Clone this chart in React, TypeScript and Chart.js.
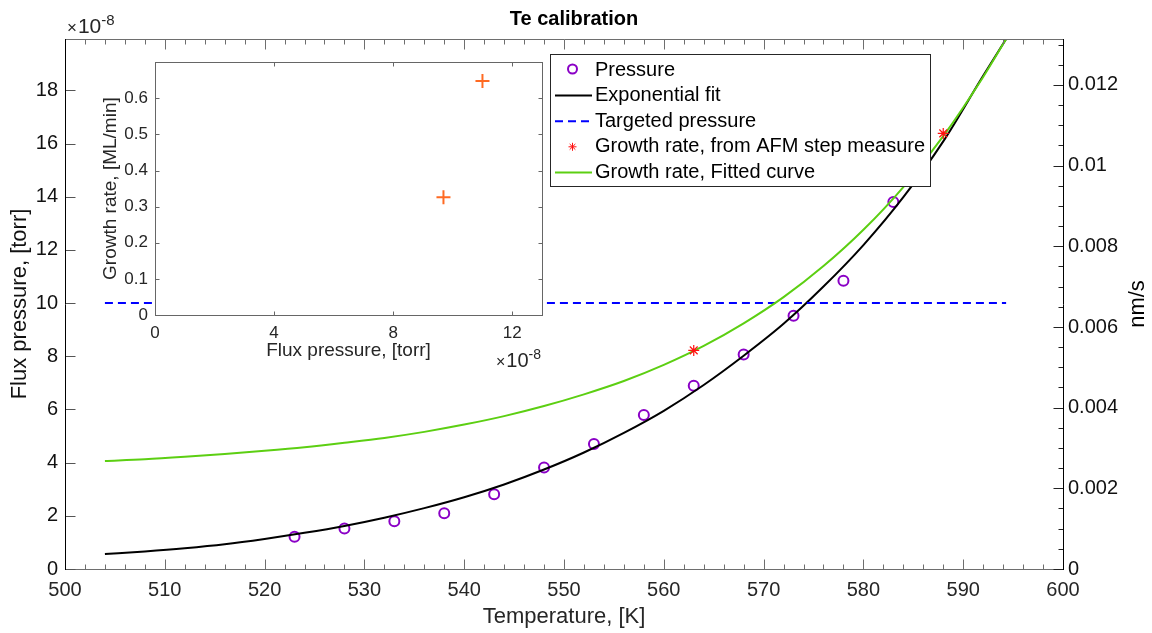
import React, { useEffect, useRef } from "react";
import { Chart, registerables } from "chart.js";

Chart.register(...registerables);

const FONT = '"Liberation Sans", Arial, Helvetica, sans-serif';

// Temperature axis (K)
const temperatureTicks = [500, 510, 520, 530, 540, 550, 560, 570, 580, 590, 600];
// Left axis: flux pressure, in units of 1e-8 torr
const pressureTicks = [0, 2, 4, 6, 8, 10, 12, 14, 16, 18];
// Right axis: growth rate, nm/s
const rateTicks = [0, 0.002, 0.004, 0.006, 0.008, 0.01, 0.012];
const rateTickLabels = ["0", "0.002", "0.004", "0.006", "0.008", "0.01", "0.012"];

// Measured Te flux pressure (x1e-8 torr)
const measuredT = [523, 528, 533, 538, 543, 548, 553, 558, 563, 568, 573, 578, 583];
const measuredP = [1.21, 1.52, 1.8, 2.1, 2.81, 3.82, 4.7, 5.79, 6.89, 8.07, 9.52, 10.84, 13.8];

// Exponential fit through the measured pressure (x1e-8 torr)
const fitT = [504, 508, 512, 516, 520, 524, 528, 532, 536, 540, 544, 548, 552, 556, 560, 564, 568, 572, 576, 580, 584, 588, 592, 594.3];
const fitP = [0.56, 0.66, 0.78, 0.93, 1.13, 1.36, 1.62, 1.93, 2.29, 2.7, 3.18, 3.74, 4.38, 5.12, 5.95, 6.92, 8.02, 9.22, 10.62, 12.18, 13.98, 16.08, 18.55, 19.93];

// Targeted flux pressure (x1e-8 torr)
const targetT = [504, 594.3];
const targetP = [10, 10];

// Growth rate from AFM step height (nm/s)
const afmT = [563, 588];
const afmRate = [0.00542, 0.0108];

// Fitted growth-rate curve (nm/s)
const rateFitT = [504, 508, 512, 516, 520, 524, 528, 532, 536, 540, 544, 548, 552, 556, 560, 564, 568, 572, 576, 580, 584, 588, 592, 594.3];
const rateFitV = [0.00268, 0.00272, 0.00278, 0.00285, 0.00293, 0.00302, 0.00313, 0.00325, 0.0034, 0.00358, 0.00379, 0.00404, 0.00433, 0.00466, 0.00506, 0.00553, 0.00609, 0.00674, 0.00751, 0.00841, 0.00947, 0.01073, 0.0122, 0.01314];

// Inset: growth rate against flux pressure
const insetFlux = [9.69, 11.0]; // x1e-8 torr
const insetRate = [0.326, 0.648]; // ML/min
const insetFluxTicks = [0, 4, 8, 12];
const insetRateTicks = [0, 0.1, 0.2, 0.3, 0.4, 0.5, 0.6];

const PURPLE = "#8A00C6";
const GREEN = "#5CCF12";
const BLUE = "#0000FF";
const RED = "#FF1010";
const ORANGE = "#FF6A22";
const AXIS_GRAY = "#6e6e6e";
const TEXT = "#262626";

const pts = (xs: number[], ys: number[]) => xs.map((x, i) => ({ x, y: ys[i] }));

function line(ctx: CanvasRenderingContext2D, x1: number, y1: number, x2: number, y2: number) {
  ctx.beginPath();
  ctx.moveTo(x1, y1);
  ctx.lineTo(x2, y2);
  ctx.stroke();
}

// "x10^-8" multiplier label
function drawPower(ctx: CanvasRenderingContext2D, x: number, baseline: number, size: number, color: string) {
  ctx.save();
  ctx.fillStyle = color;
  ctx.textBaseline = "alphabetic";
  ctx.textAlign = "left";
  ctx.font = `${Math.round(size * 0.8)}px ${FONT}`;
  ctx.fillText("\u00d7", x, baseline);
  const w1 = ctx.measureText("\u00d7").width;
  ctx.font = `${size}px ${FONT}`;
  ctx.fillText("10", x + w1 + 1, baseline);
  const w2 = ctx.measureText("10").width;
  ctx.font = `${Math.round(size * 0.72)}px ${FONT}`;
  ctx.fillText("-8", x + w1 + 1 + w2, baseline - size * 0.4);
  ctx.restore();
}

const legendItems = [
  { label: "Pressure", kind: "circle" },
  { label: "Exponential fit", kind: "black" },
  { label: "Targeted pressure", kind: "dash" },
  { label: "Growth rate, from AFM step measure", kind: "star" },
  { label: "Growth rate, Fitted curve", kind: "green" },
];

const mainDecor = {
  id: "mainDecor",
  afterDraw(chart: any) {
    const { ctx, chartArea: ca, scales } = chart;
    const xs = scales.x;
    const yl = scales.y;
    const yr = scales.y1;
    const L = Math.round(ca.left) + 0.5;
    const R = Math.round(ca.right) + 0.5;
    const T = Math.round(ca.top) + 0.5;
    const B = Math.round(ca.bottom) + 0.5;
    ctx.save();
    ctx.lineWidth = 1;

    // top and bottom axis lines with inward ticks
    ctx.strokeStyle = AXIS_GRAY;
    line(ctx, L, B, R, B);
    line(ctx, L, T, R, T);
    for (let v = xs.min; v <= xs.max + 1e-9; v += 2) {
      const px = Math.round(xs.getPixelForValue(v)) + 0.5;
      const len = Math.abs(v % 10) < 1e-6 ? 10 : 5;
      line(ctx, px, B, px, B - len);
      line(ctx, px, T, px, T + len);
    }

    // left axis
    ctx.strokeStyle = "#555";
    for (const v of pressureTicks) {
      const py = Math.round(yl.getPixelForValue(v)) + 0.5;
      line(ctx, L, py, L + 10, py);
    }
    ctx.strokeStyle = "#000";
    line(ctx, L, T - 0.5, L, B + 0.5);

    // right axis, majors and minors
    ctx.strokeStyle = "#222";
    const step = rateTicks[1] - rateTicks[0];
    for (let i = 0; (i * step) / 4 <= yr.max + 1e-12; i++) {
      const v = (i * step) / 4;
      const py = Math.round(yr.getPixelForValue(v)) + 0.5;
      line(ctx, R, py, R - (i % 4 === 0 ? 10 : 5), py);
    }
    ctx.strokeStyle = "#000";
    line(ctx, R, T - 0.5, R, B + 0.5);

    // title
    ctx.fillStyle = "#000";
    ctx.font = `bold 20px ${FONT}`;
    ctx.textAlign = "center";
    ctx.textBaseline = "middle";
    ctx.fillText("Te calibration", 574, 19);

    // right axis title
    ctx.save();
    ctx.translate(1138, 304);
    ctx.rotate(-Math.PI / 2);
    ctx.font = `22px ${FONT}`;
    ctx.fillStyle = "#000";
    ctx.textAlign = "center";
    ctx.textBaseline = "middle";
    ctx.fillText("nm/s", 0, 0);
    ctx.restore();

    // exponent of the left axis
    drawPower(ctx, 67, 33, 21, TEXT);

    // legend
    const lx = 550.5, ly = 54.5, lw = 380, lh = 132;
    ctx.fillStyle = "#fff";
    ctx.fillRect(lx, ly, lw, lh);
    ctx.strokeStyle = "#262626";
    ctx.strokeRect(lx, ly, lw, lh);
    ctx.font = `20px ${FONT}`;
    ctx.textAlign = "left";
    ctx.textBaseline = "middle";
    legendItems.forEach((it, i) => {
      const cy = 70 + i * 25.6;
      const x1 = 555, x2 = 592, cx = 572.5;
      ctx.lineWidth = 2;
      if (it.kind === "circle") {
        ctx.strokeStyle = PURPLE;
        ctx.beginPath();
        ctx.arc(cx, cy - 1, 4.5, 0, Math.PI * 2);
        ctx.stroke();
      } else if (it.kind === "black") {
        ctx.strokeStyle = "#000";
        line(ctx, x1, cy, x2, cy);
      } else if (it.kind === "dash") {
        ctx.strokeStyle = BLUE;
        ctx.setLineDash([8, 5]);
        line(ctx, x1, cy, x2, cy);
        ctx.setLineDash([]);
      } else if (it.kind === "star") {
        ctx.strokeStyle = RED;
        ctx.lineWidth = 1;
        const r = 4;
        for (let k = 0; k < 4; k++) {
          const a = (k * Math.PI) / 4;
          line(ctx, cx - r * Math.cos(a), cy - r * Math.sin(a), cx + r * Math.cos(a), cy + r * Math.sin(a));
        }
      } else if (it.kind === "green") {
        ctx.strokeStyle = GREEN;
        line(ctx, x1, cy, x2, cy);
      }
      ctx.fillStyle = "#000";
      ctx.fillText(it.label, 595, cy);
    });
    ctx.restore();
  },
};

const insetDecor = {
  id: "insetDecor",
  beforeDraw(chart: any) {
    const { ctx, chartArea: ca } = chart;
    ctx.save();
    ctx.fillStyle = "#fff";
    ctx.fillRect(ca.left, ca.top, ca.right - ca.left, ca.bottom - ca.top);
    ctx.restore();
  },
  afterDraw(chart: any) {
    const { ctx, chartArea: ca, scales } = chart;
    const xs = scales.x;
    const ys = scales.y;
    const L = Math.round(ca.left) + 0.5;
    const R = Math.round(ca.right) + 0.5;
    const T = Math.round(ca.top) + 0.5;
    const B = Math.round(ca.bottom) + 0.5;
    ctx.save();
    ctx.lineWidth = 1;
    ctx.strokeStyle = "#666";
    for (const v of insetFluxTicks) {
      const px = Math.round(xs.getPixelForValue(v)) + 0.5;
      line(ctx, px, B, px, B - 4);
      line(ctx, px, T, px, T + 4);
    }
    for (const v of insetRateTicks) {
      const py = Math.round(ys.getPixelForValue(v)) + 0.5;
      line(ctx, L, py, L + 4, py);
      line(ctx, R, py, R - 4, py);
    }
    ctx.strokeRect(L, T, R - L, B - T);
    drawPower(ctx, 406, 322, 20, TEXT);
    ctx.restore();
  },
};

export default function App() {
  const mainRef = useRef<HTMLCanvasElement | null>(null);
  const insetRef = useRef<HTMLCanvasElement | null>(null);

  useEffect(() => {
    Chart.defaults.font.family = FONT;
    const main = new Chart(mainRef.current as HTMLCanvasElement, {
      type: "scatter",
      data: {
        datasets: [
          {
            label: "Growth rate, from AFM step measure",
            data: pts(afmT, afmRate),
            yAxisID: "y1",
            showLine: false,
            pointStyle: "star",
            pointRadius: 5.5,
            borderColor: RED,
            borderWidth: 1.2,
            backgroundColor: RED,
          },
          {
            label: "Growth rate, Fitted curve",
            data: pts(rateFitT, rateFitV),
            yAxisID: "y1",
            showLine: true,
            pointRadius: 0,
            borderColor: GREEN,
            borderWidth: 2,
            cubicInterpolationMode: "monotone",
          },
          {
            label: "Targeted pressure",
            data: pts(targetT, targetP),
            yAxisID: "y",
            showLine: true,
            pointRadius: 0,
            borderColor: BLUE,
            borderWidth: 2,
            borderDash: [8, 5],
          },
          {
            label: "Exponential fit",
            data: pts(fitT, fitP),
            yAxisID: "y",
            showLine: true,
            pointRadius: 0,
            borderColor: "#000",
            borderWidth: 2,
            cubicInterpolationMode: "monotone",
          },
          {
            label: "Pressure",
            data: pts(measuredT, measuredP),
            yAxisID: "y",
            showLine: false,
            pointStyle: "circle",
            pointRadius: 5,
            borderColor: PURPLE,
            borderWidth: 2,
            backgroundColor: "rgba(0,0,0,0)",
          },
        ],
      },
      options: {
        animation: false,
        responsive: false,
        events: [],
        layout: { padding: { top: 39, left: 0, right: 0, bottom: 0 } },
        plugins: { legend: { display: false }, tooltip: { enabled: false }, title: { display: false } },
        scales: {
          x: {
            type: "linear",
            position: "bottom",
            min: 500,
            max: 600,
            afterBuildTicks: (s: any) => {
              s.ticks = temperatureTicks.map((value) => ({ value }));
            },
            afterFit: (s: any) => {
              s.height = 64;
            },
            grid: { display: false, drawTicks: false },
            border: { display: false },
            ticks: { color: TEXT, font: { size: 20, family: FONT }, padding: 9, maxRotation: 0, autoSkip: false },
            title: {
              display: true,
              text: "Temperature, [K]",
              color: TEXT,
              font: { size: 22, family: FONT },
              padding: { top: 0, bottom: 3 },
            },
          },
          y: {
            type: "linear",
            position: "left",
            min: 0,
            max: 19.93,
            afterBuildTicks: (s: any) => {
              s.ticks = pressureTicks.map((value) => ({ value }));
            },
            afterFit: (s: any) => {
              s.width = 65;
            },
            grid: { display: false, drawTicks: false },
            border: { display: false },
            ticks: { color: "#111", font: { size: 20, family: FONT }, padding: 7 },
            title: {
              display: true,
              text: "Flux pressure, [torr]",
              color: "#111",
              font: { size: 22, family: FONT },
              padding: { top: 7, bottom: 0 },
            },
          },
          y1: {
            type: "linear",
            position: "right",
            min: 0,
            max: 0.01314,
            afterBuildTicks: (s: any) => {
              s.ticks = rateTicks.map((value) => ({ value }));
            },
            afterFit: (s: any) => {
              s.width = 89;
            },
            grid: { display: false, drawTicks: false },
            border: { display: false },
            ticks: {
              color: "#111",
              font: { size: 20, family: FONT },
              padding: 5,
              callback: (_v: any, i: number) => rateTickLabels[i],
            },
          },
        },
      },
      plugins: [mainDecor],
    } as any);

    const inset = new Chart(insetRef.current as HTMLCanvasElement, {
      type: "scatter",
      data: {
        datasets: [
          {
            label: "Growth rate",
            data: pts(insetFlux, insetRate),
            pointStyle: "cross",
            pointRadius: 7,
            borderColor: ORANGE,
            borderWidth: 2,
            backgroundColor: ORANGE,
          },
        ],
      },
      options: {
        animation: false,
        responsive: false,
        events: [],
        layout: { padding: { top: 10, right: 18, left: 0, bottom: 0 } },
        plugins: { legend: { display: false }, tooltip: { enabled: false } },
        scales: {
          x: {
            type: "linear",
            min: 0,
            max: 13,
            afterBuildTicks: (s: any) => {
              s.ticks = insetFluxTicks.map((value) => ({ value }));
            },
            afterFit: (s: any) => {
              s.height = 60;
            },
            grid: { display: false, drawTicks: false },
            border: { display: false },
            ticks: { color: TEXT, font: { size: 17, family: FONT }, padding: 8, maxRotation: 0, autoSkip: false },
            title: {
              display: true,
              text: "Flux pressure, [torr]",
              color: TEXT,
              font: { size: 19, family: FONT },
              padding: { top: 0, bottom: 13 },
            },
          },
          y: {
            type: "linear",
            min: 0,
            max: 0.7,
            afterBuildTicks: (s: any) => {
              s.ticks = insetRateTicks.map((value) => ({ value }));
            },
            afterFit: (s: any) => {
              s.width = 65;
            },
            grid: { display: false, drawTicks: false },
            border: { display: false },
            ticks: {
              color: TEXT,
              font: { size: 17, family: FONT },
              padding: 7,
              callback: (v: any) => String(Math.round(Number(v) * 10) / 10),
            },
            title: {
              display: true,
              text: "Growth rate, [ML/min]",
              color: TEXT,
              font: { size: 19, family: FONT },
              padding: { top: 9, bottom: 0 },
            },
          },
        },
      },
      plugins: [insetDecor],
    } as any);

    return () => {
      main.destroy();
      inset.destroy();
    };
  }, []);

  return (
    <div style={{ position: "fixed", left: 0, top: 0, width: 1152, height: 633, background: "#fff" }}>
      <canvas ref={mainRef} width={1152} height={633} style={{ position: "absolute", left: 0, top: 0 }} />
      <canvas ref={insetRef} width={470} height={330} style={{ position: "absolute", left: 90, top: 45 }} />
    </div>
  );
}
